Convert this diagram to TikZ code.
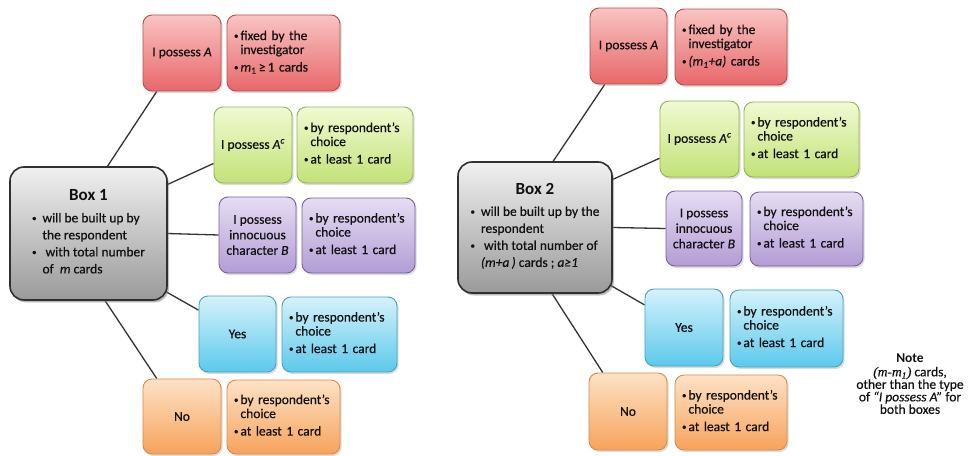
\documentclass[tikz,border=0pt]{standalone}
\usepackage{fontspec}
\setmainfont{Carlito}[UprightFeatures={FakeBold=0.5}, ItalicFeatures={FakeBold=0.5}]
\newfontfamily\serifit{Liberation Serif}[ItalicFont={Liberation Serif Italic}, ItalicFeatures={FakeBold=0.4}]
\usetikzlibrary{calc,shadows,backgrounds}

\definecolor{txt}{HTML}{111111}
\definecolor{linec}{HTML}{333333}
\definecolor{redt}{HTML}{F9C4C2}
\definecolor{redbot}{HTML}{E8676A}
\definecolor{redb}{HTML}{B5504E}
\definecolor{greent}{HTML}{F1FAD2}
\definecolor{greenbot}{HTML}{C2E277}
\definecolor{greenb}{HTML}{93B356}
\definecolor{purt}{HTML}{E6DDF3}
\definecolor{purbot}{HTML}{B29DD5}
\definecolor{purb}{HTML}{7A619F}
\definecolor{cyant}{HTML}{D5F2FB}
\definecolor{cyanbot}{HTML}{5CC9EC}
\definecolor{cyanb}{HTML}{45A3BE}
\definecolor{orat}{HTML}{FDE2C6}
\definecolor{orabot}{HTML}{F7A35B}
\definecolor{orab}{HTML}{D98A46}
\definecolor{greyt}{HTML}{F0F0F0}
\definecolor{greybot}{HTML}{9A9A9A}
\definecolor{greyb}{HTML}{303030}

\newcommand\mainfs{\fontsize{13.5}{14}\selectfont}
\newcommand\bul{\raisebox{0.2ex}{\fontsize{9}{9}\selectfont\textbullet}}
\newcommand\choicetxt{\begin{tabular}{@{}l@{\hspace{2pt}}l@{}}\bul&by respondent's\\&choice\\[3.5pt]\bul&at least 1 card\end{tabular}}

\tikzset{
  base/.style={draw, rounded corners=9pt, line width=0.9pt, inner sep=1pt,
    align=center, text=txt, font=\mainfs,
    drop shadow={shadow xshift=1.6pt, shadow yshift=-2pt, opacity=0.28}},
  redbox/.style={base, draw=redb, top color=redt, bottom color=redbot},
  greenbox/.style={base, draw=greenb, top color=greent, bottom color=greenbot},
  purbox/.style={base, draw=purb, top color=purt, bottom color=purbot},
  cyanbox/.style={base, draw=cyanb, top color=cyant, bottom color=cyanbot},
  orabox/.style={base, draw=orab, top color=orat, bottom color=orabot},
  greybox/.style={base, draw=greyb, line width=1.6pt, rounded corners=14pt,
    top color=greyt, bottom color=greybot,
    drop shadow={shadow xshift=2pt, shadow yshift=-2.5pt, opacity=0.35}},
  detail/.style={align=left},
  conn/.style={draw=linec, line width=1.3pt},
}

\begin{document}
\begin{tikzpicture}[x=1pt, y=-1pt]
\begin{pgfonlayer}{background}
\fill[white] (0,0) rectangle (968,455);
\end{pgfonlayer}
\useasboundingbox (0,0) rectangle (968,455);

% ---------------- Box 1 group ----------------
\node[greybox, minimum width=157pt, minimum height=133pt] (b1) at (88.5,233.5)
  {\fontsize{13.5}{17}\selectfont
   \begin{tabular}{@{}l@{\hspace{6pt}}l@{}}
   \multicolumn{2}{c}{\fontsize{17}{20}\selectfont\bfseries Box 1}\\[5pt]
   \bul & will be built up by\\
        & the respondent\\
   \bul & \ with total number\\
        & of \ \textit{m} cards
   \end{tabular}};

\node[redbox, minimum width=78pt, minimum height=76pt] (r1) at (182,53) {I possess \textit{A}};
\node[redbox, detail, minimum width=113pt, minimum height=76pt, text width=99pt] (r1d) at (283.5,53)
  {\begin{tabular}{@{}l@{\hspace{2pt}}l@{}}\bul&fixed by the\\&investigator\\[3.5pt]\bul&\textit{m}\textsubscript{1}\,≥\,1 cards\end{tabular}};

\node[greenbox, minimum width=78pt, minimum height=76pt] (g1) at (253,145) {I possess \textit{A}\textsuperscript{\textit{c}}};
\node[greenbox, detail, minimum width=116pt, minimum height=76pt, text width=102pt] (g1d) at (355,145) {\choicetxt};

\node[purbox, minimum width=77pt, minimum height=76pt, font=\fontsize{13.5}{15.5}\selectfont] (p1) at (257.5,235)
  {I possess\\innocuous\\character \textit{B}};
\node[purbox, detail, minimum width=113pt, minimum height=75pt, text width=99pt] (p1d) at (358.5,235.5) {\choicetxt};

\node[cyanbox, minimum width=77pt, minimum height=76pt] (c1) at (237.5,334) {Yes};
\node[cyanbox, detail, minimum width=115pt, minimum height=75pt, text width=101pt] (c1d) at (339.5,334.5) {\choicetxt};

\node[orabox, minimum width=78pt, minimum height=75pt] (o1) at (182,416.5) {No};
\node[orabox, detail, minimum width=113pt, minimum height=74pt, text width=99pt] (o1d) at (283.5,417) {\choicetxt};

% ---------------- Box 2 group ----------------
\node[greybox, minimum width=154pt, minimum height=131pt] (b2) at (535,227.5)
  {\fontsize{13.5}{17}\selectfont
   \begin{tabular}{@{}l@{\hspace{6pt}}l@{}}
   \multicolumn{2}{c}{\fontsize{17}{20}\selectfont\bfseries Box 2}\\[4pt]
   \bul & will be built up by the\\
        & respondent\\
   \bul & \ with total number of\\
        & \textit{(m+a\,)} cards ; \textit{a≥1}
   \end{tabular}};

\node[redbox, minimum width=77pt, minimum height=76pt] (r2) at (628.5,46) {I possess \textit{A}};
\node[redbox, detail, minimum width=112pt, minimum height=76pt, text width=98pt] (r2d) at (731,47)
  {\begin{tabular}{@{}l@{\hspace{2pt}}l@{}}\bul&fixed by the\\&investigator\\[3.5pt]\bul&\textit{(m\textsubscript{1}+a)} cards\end{tabular}};

\node[greenbox, minimum width=79pt, minimum height=76pt] (g2) at (699.5,139) {I possess \textit{A}\textsuperscript{\textit{c}}};
\node[greenbox, detail, minimum width=115pt, minimum height=75pt, text width=101pt] (g2d) at (801.5,139.5) {\choicetxt};

\node[purbox, minimum width=76pt, minimum height=75pt, font=\fontsize{13.5}{15.5}\selectfont] (p2) at (704,228.5)
  {I possess\\innocuous\\character \textit{B}};
\node[purbox, detail, minimum width=113pt, minimum height=74pt, text width=99pt] (p2d) at (806.5,229) {\choicetxt};

\node[cyanbox, minimum width=78pt, minimum height=77pt] (c2) at (684,327.5) {Yes};
\node[cyanbox, detail, minimum width=113pt, minimum height=77pt, text width=99pt] (c2d) at (786.5,328.5) {\choicetxt};

\node[orabox, minimum width=78pt, minimum height=77pt] (o2) at (628,411.5) {No};
\node[orabox, detail, minimum width=112pt, minimum height=75pt, text width=98pt] (o2d) at (731,412.5) {\choicetxt};

% ---------------- Note ----------------
\node[align=center, text=txt, font=\fontsize{13.5}{12.5}\selectfont] (note) at (910,384)
  {{\bfseries Note}\\[1pt]
   {\serifit\itshape (m-m\textsubscript{1})} cards,\\
   other than the type\\
   of \textit{“I possess A”} for\\
   both boxes};

% ---------------- connectors ----------------
\coordinate (b1r) at ($(b1.north west)!0.62!(b1.north east)$);
\coordinate (r1b) at ($(r1.south west)!0.18!(r1.south east)$);
\coordinate (b1g) at ($(b1.north east)!0.135!(b1.south east)$);
\coordinate (g1l) at ($(g1.north west)!0.74!(g1.south west)$);
\coordinate (b1c) at ($(b1.north east)!0.94!(b1.south east)$);
\coordinate (c1l) at ($(c1.north west)!0.19!(c1.south west)$);
\coordinate (b1o) at ($(b1.south west)!0.605!(b1.south east)$);
\coordinate (o1t) at ($(o1.north west)!0.18!(o1.north east)$);

\coordinate (b2r) at ($(b2.north west)!0.617!(b2.north east)$);
\coordinate (r2b) at ($(r2.south west)!0.195!(r2.south east)$);
\coordinate (b2g) at ($(b2.north east)!0.137!(b2.south east)$);
\coordinate (g2l) at ($(g2.north west)!0.75!(g2.south west)$);
\coordinate (b2c) at ($(b2.north east)!0.946!(b2.south east)$);
\coordinate (c2l) at ($(c2.north west)!0.21!(c2.south west)$);
\coordinate (b2o) at ($(b2.south west)!0.61!(b2.south east)$);
\coordinate (o2t) at ($(o2.north west)!0.18!(o2.north east)$);

\begin{pgfonlayer}{background}
\draw[conn] ($(b1r)!-0.1!(r1b)$) -- (r1b);
\draw[conn] ($(b1g)!-0.3!(g1l)$) -- (g1l);
\draw[conn] (b1.east) -- (p1.west);
\draw[conn] ($(b1c)!-0.4!(c1l)$) -- (c1l);
\draw[conn] ($(b1o)!-0.1!(o1t)$) -- (o1t);
\draw[conn] ($(b2r)!-0.1!(r2b)$) -- (r2b);
\draw[conn] ($(b2g)!-0.3!(g2l)$) -- (g2l);
\draw[conn] (b2.east) -- (p2.west);
\draw[conn] ($(b2c)!-0.4!(c2l)$) -- (c2l);
\draw[conn] ($(b2o)!-0.1!(o2t)$) -- (o2t);
\end{pgfonlayer}
\end{tikzpicture}
\end{document}
